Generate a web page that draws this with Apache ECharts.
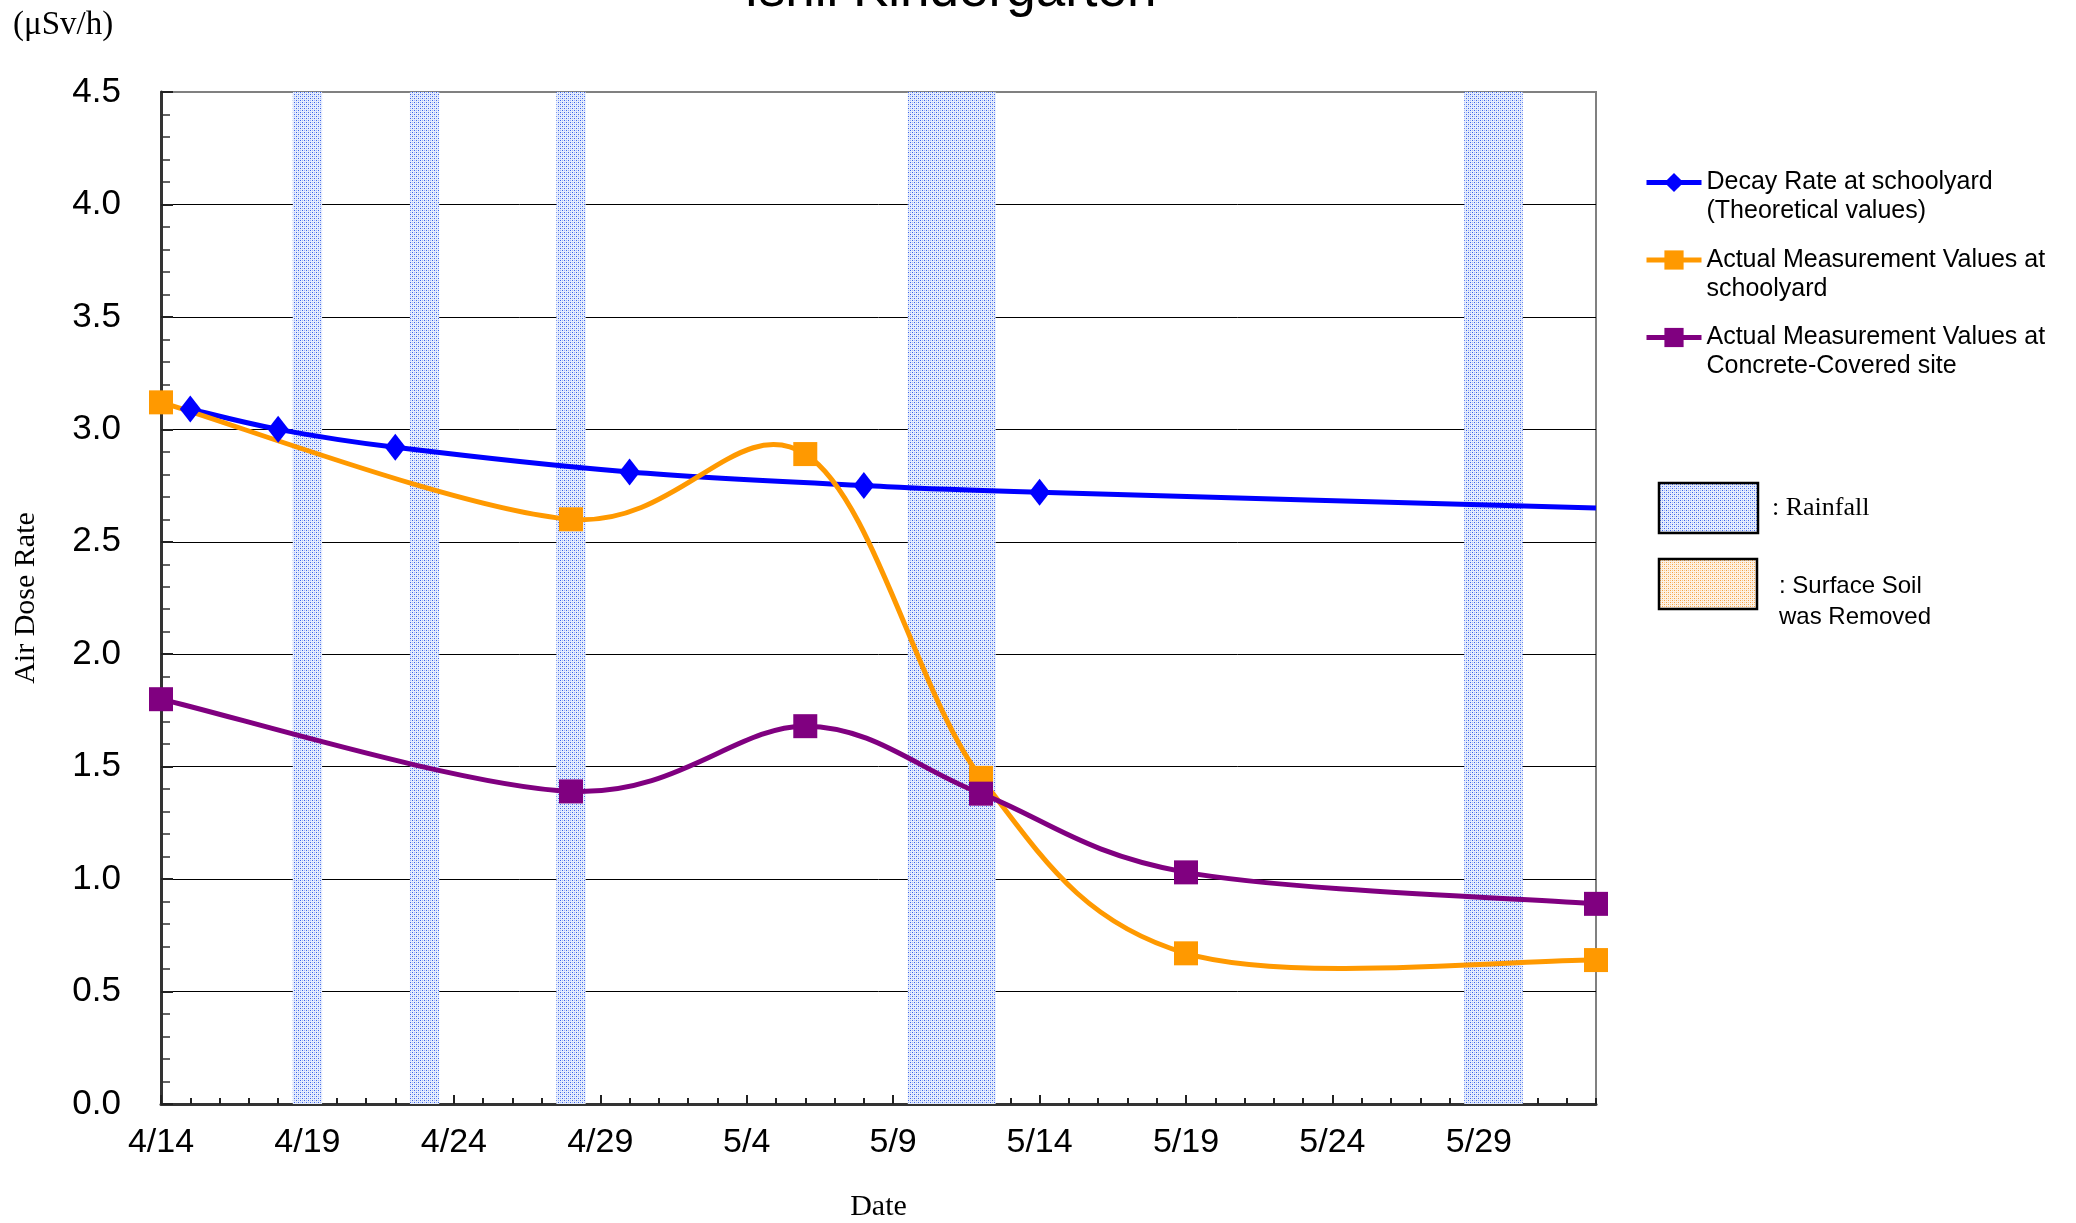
<!DOCTYPE html>
<html><head><meta charset="utf-8">
<script src="https://cdn.jsdelivr.net/npm/echarts@6/dist/echarts.min.js"></script>
<style>html,body{margin:0;padding:0;background:#fff}#c{width:2076px;height:1223px}</style>
</head><body><div id="c"></div>
<script>
// ---- data ----
const tickLabels = ['4/14','4/19','4/24','4/29','5/4','5/9','5/14','5/19','5/24','5/29'];
const decayDates = ['4/15','4/18','4/22','4/30','5/8','5/14','6/2'];
const decayValues = [3.09, 3.00, 2.92, 2.81, 2.75, 2.72, 2.65];
const measDates = ['4/14','4/28','5/6','5/12','5/19','6/2'];
const schoolyardValues = [3.12, 2.60, 2.89, 1.45, 0.67, 0.64];
const concreteValues = [1.80, 1.39, 1.68, 1.38, 1.03, 0.89];
const rainStart = ['4/19','4/23','4/28','5/10','5/29'];
const rainEnd   = ['4/19','4/23','4/28','5/12','5/30'];
const seriesNames = [
  'Decay Rate at schoolyard\n(Theoretical values)',
  'Actual Measurement Values at\nschoolyard',
  'Actual Measurement Values at\nConcrete-Covered site'
];
const seriesColors = ['#0000ff', '#ff9900', '#800080'];
const titleText = 'Ishii Kindergarten';

// ---- helpers ----
function dayIndex(s) {
  const p = s.split('/').map(Number);
  return Math.round((Date.UTC(2011, p[0] - 1, p[1]) - Date.UTC(2011, 3, 14)) / 86400000);
}
function makePattern(bg, dot, dot2) {
  const c = document.createElement('canvas');
  c.width = 4; c.height = 4;
  const g = c.getContext('2d');
  g.fillStyle = bg; g.fillRect(0, 0, 4, 4);
  g.fillStyle = dot; g.fillRect(0, 0, 1, 1); g.fillRect(2, 2, 1, 1);
  g.fillStyle = dot2; g.fillRect(2, 0, 1, 1); g.fillRect(0, 2, 1, 1);
  return c;
}
const rainPat = makePattern('#e6edfd', '#3a62ea', '#a3b8f5');
const soilPat = makePattern('#fdf2e6', '#f5a040', '#f9c88e');

// Excel-style smoothed curve (Catmull-Rom, 1/6 tangents) through pixel points
function smoothPath(pts) {
  let d = 'M' + pts[0][0] + ',' + pts[0][1];
  for (let i = 0; i < pts.length - 1; i++) {
    const p0 = pts[i - 1] || pts[i], p1 = pts[i], p2 = pts[i + 1], p3 = pts[i + 2] || pts[i + 1];
    const c1x = p1[0] + (p2[0] - p0[0]) / 6, c1y = p1[1] + (p2[1] - p0[1]) / 6;
    const c2x = p2[0] - (p3[0] - p1[0]) / 6, c2y = p2[1] - (p3[1] - p1[1]) / 6;
    d += 'C' + c1x + ',' + c1y + ',' + c2x + ',' + c2y + ',' + p2[0] + ',' + p2[1];
  }
  return d;
}
function curveSeries(dates, values, color) {
  return {
    type: 'custom', coordinateSystem: 'cartesian2d', silent: true, z: 2,
    data: [[dayIndex(dates[0]), values[0]]],
    renderItem: function (params, api) {
      const pts = dates.map(function (d, i) { return api.coord([dayIndex(d), values[i]]); });
      return {type: 'path', shape: {pathData: smoothPath(pts)},
        style: {fill: 'none', stroke: color, lineWidth: 5, lineJoin: 'round', lineCap: 'butt'}};
    }
  };
}
function markerSeries(name, dates, values, color, symbol, size, extra) {
  return Object.assign({
    name: name, type: 'line', z: 3,
    symbol: symbol, symbolSize: size,
    lineStyle: {width: 5, color: color, opacity: 0}, itemStyle: {color: color},
    data: dates.map(function (d, i) { return [dayIndex(d), values[i]]; })
  }, extra || {});
}

const chart = echarts.init(document.getElementById('c'), null, {renderer: 'canvas'});
const blueMarkers = markerSeries(seriesNames[0], decayDates, decayValues, seriesColors[0], 'diamond', [21, 27], {
  markArea: {
    silent: true, z: 1,
    itemStyle: {color: {image: rainPat, repeat: 'repeat'}, borderWidth: 0, opacity: 1},
    data: rainStart.map(function (s, i) {
      return [{xAxis: dayIndex(s) - 0.5}, {xAxis: dayIndex(rainEnd[i]) + 0.5}];
    })
  }
});
// last theoretical point has no marker
blueMarkers.data = decayDates.map(function (d, i) {
  return {value: [dayIndex(d), decayValues[i]], symbol: i === decayDates.length - 1 ? 'none' : 'diamond'};
});

const option = {
  animation: false,
  backgroundColor: '#fff',
  title: {
    text: titleText, left: 744, top: -35, padding: 0,
    textStyle: {fontFamily: 'Liberation Sans', fontSize: 53, fontWeight: 'normal', color: '#000'}
  },
  legend: {
    orient: 'vertical', left: 1644, top: 139, padding: 0, itemGap: -9.5,
    itemWidth: 55, itemHeight: 24,
    data: seriesNames,
    lineStyle: {opacity: 1, width: 5},
    formatter: function (name) { return '\n' + name; },
    textStyle: {fontFamily: 'Liberation Sans', fontSize: 25, lineHeight: 29, color: '#000'}
  },
  grid: {
    left: 161, right: 480, top: 92, bottom: 119, outerBoundsMode: 'none', containLabel: false,
    show: true, borderColor: '#808080', borderWidth: 2, backgroundColor: 'transparent'
  },
  xAxis: [{
    type: 'value', min: 0, max: 49, interval: 5, position: 'bottom',
    axisLine: {show: true, lineStyle: {color: '#333', width: 3}},
    axisTick: {show: true, inside: true, length: 9, lineStyle: {color: '#222', width: 2}},
    axisLabel: {margin: 22, fontSize: 34, fontFamily: 'Liberation Sans', color: '#000', showMaxLabel: false,
      formatter: function (v) { return tickLabels[v / 5] || ''; }},
    splitLine: {show: false},
    name: 'Date', nameLocation: 'middle', nameGap: 88,
    nameTextStyle: {fontFamily: 'Liberation Serif', fontSize: 30, color: '#000'}
  }, {
    type: 'value', min: 0, max: 49, interval: 1, position: 'bottom',
    axisLine: {show: false},
    axisTick: {show: true, inside: true, length: 6, lineStyle: {color: '#222', width: 2}},
    axisLabel: {show: false}, splitLine: {show: false}
  }],
  yAxis: {
    type: 'value', min: 0, max: 4.5, interval: 0.5,
    axisLine: {show: true, lineStyle: {color: '#333', width: 3}},
    axisTick: {show: true, inside: true, length: 12, lineStyle: {color: '#222', width: 2}},
    minorTick: {show: true, splitNumber: 5, length: 9, lineStyle: {color: '#333', width: 1.5}},
    axisLabel: {margin: 40, fontSize: 35, fontFamily: 'Liberation Sans', color: '#000',
      formatter: function (v) { return v.toFixed(1); }},
    splitLine: {show: true, showMinLine: false, showMaxLine: false, lineStyle: {color: '#000', width: 1}},
    name: 'Air Dose Rate', nameLocation: 'middle', nameRotate: 90, nameGap: 120,
    nameTextStyle: {fontFamily: 'Liberation Serif', fontSize: 30, color: '#000'}
  },
  graphic: [
    {type: 'text', x: 13, y: 25, style: {text: '(μSv/h)', font: '33px "Liberation Serif"', fill: '#000', verticalAlign: 'middle'}},
    {type: 'rect', shape: {x: 1659, y: 483, width: 99, height: 50},
      style: {fill: {image: rainPat, repeat: 'repeat'}, stroke: '#000', lineWidth: 2.5}},
    {type: 'rect', shape: {x: 1659, y: 559, width: 98, height: 50},
      style: {fill: {image: soilPat, repeat: 'repeat'}, stroke: '#000', lineWidth: 2.5}},
    {type: 'text', x: 1772, y: 508, style: {text: ': Rainfall', font: '26px "Liberation Serif"', fill: '#000', verticalAlign: 'middle'}},
    {type: 'text', x: 1779, y: 571, style: {text: ': Surface Soil\nwas Removed', font: '24px "Liberation Sans"', lineHeight: 31, fill: '#000', verticalAlign: 'top'}}
  ],
  series: [
    curveSeries(decayDates, decayValues, seriesColors[0]),
    curveSeries(measDates, schoolyardValues, seriesColors[1]),
    curveSeries(measDates, concreteValues, seriesColors[2]),
    blueMarkers,
    markerSeries(seriesNames[1], measDates, schoolyardValues, seriesColors[1], 'rect', 24),
    markerSeries(seriesNames[2], measDates, concreteValues, seriesColors[2], 'rect', 24)
  ]
};
chart.setOption(option);
</script>
</body></html>
